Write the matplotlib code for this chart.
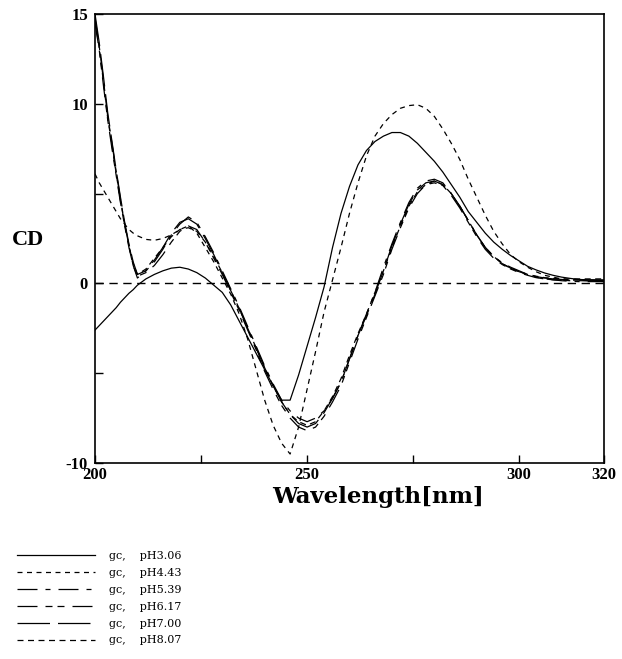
import numpy as np
import matplotlib.pyplot as plt

# CD spectra of gc at several pH values
wavelength = [200, 201, 202, 203, 204, 205, 206, 207, 208, 209, 210,
              212, 214, 216, 218, 220, 222, 224, 226, 228, 230,
              232, 234, 236, 238, 240, 242, 244, 246, 248, 250,
              252, 254, 256, 258, 260, 262, 264, 266, 268, 270,
              272, 274, 276, 278, 280, 282, 284, 286, 288, 290,
              292, 294, 296, 298, 300, 302, 304, 306, 308, 310,
              312, 314, 316, 318, 320]

cd_ph306 = [-2.6, -2.35, -2.1, -1.85, -1.6, -1.35, -1.05, -0.8, -0.55, -0.35, -0.1,
            0.25, 0.5, 0.7, 0.85, 0.9, 0.8, 0.6, 0.3, -0.1, -0.5,
            -1.2, -2.1, -3.0, -3.9, -4.8, -5.7, -6.5, -6.5, -5.1, -3.5,
            -1.9, -0.2, 2.0, 3.9, 5.4, 6.6, 7.4, 7.9, 8.2, 8.4,
            8.4, 8.2, 7.8, 7.3, 6.8, 6.2, 5.5, 4.8, 4.0, 3.4,
            2.8, 2.3, 1.9, 1.55, 1.25, 0.95, 0.75, 0.58, 0.45, 0.35,
            0.28, 0.22, 0.2, 0.18, 0.15]

cd_ph443 = [6.1, 5.6, 5.2, 4.8, 4.4, 4.0, 3.6, 3.3, 3.0, 2.8, 2.65,
            2.45, 2.4, 2.5, 2.7, 3.0, 3.2, 2.8, 2.0, 1.2, 0.3,
            -0.6, -1.7, -3.1, -4.8, -6.5, -7.9, -8.9, -9.5, -8.0, -5.9,
            -3.8, -1.6, 0.2, 2.0, 3.9, 5.6, 7.1, 8.2, 8.9, 9.4,
            9.75, 9.9, 9.95, 9.75, 9.3, 8.6, 7.8, 6.9, 5.8, 4.8,
            3.8, 2.9, 2.2, 1.6, 1.2, 0.9, 0.65, 0.45, 0.35, 0.25,
            0.2, 0.18, 0.15, 0.12, 0.1]

cd_ph539 = [14.8, 13.2, 11.3, 9.3, 7.8, 6.2, 4.7, 3.3, 2.1, 1.0, 0.3,
            0.7, 1.2, 1.9, 2.7, 3.3, 3.7, 3.4, 2.6, 1.7, 0.7,
            -0.3, -1.3, -2.4, -3.5, -4.6, -5.6, -6.5, -7.1, -7.5, -7.7,
            -7.5, -7.1, -6.4, -5.5, -4.2, -2.9, -1.7, -0.5, 0.9, 2.2,
            3.4, 4.5, 5.3, 5.7, 5.8, 5.6, 5.0, 4.3, 3.5, 2.7,
            2.0, 1.5, 1.15, 0.9, 0.7, 0.5, 0.35, 0.25, 0.2, 0.15,
            0.12, 0.1, 0.1, 0.1, 0.1]

cd_ph617 = [14.5, 13.0, 11.0, 9.1, 7.5, 6.0, 4.5, 3.2, 2.0, 1.0, 0.4,
            0.6, 1.0, 1.6, 2.3, 2.9, 3.2, 3.0, 2.3, 1.4, 0.5,
            -0.5, -1.5, -2.6, -3.7, -4.9, -5.9, -6.8, -7.5, -8.0, -8.2,
            -8.0, -7.4, -6.6, -5.7, -4.4, -3.1, -1.9, -0.7, 0.5, 1.9,
            3.1, 4.2, 5.0, 5.5, 5.6, 5.45, 4.9, 4.2, 3.4, 2.6,
            1.9, 1.4, 1.05, 0.8, 0.6, 0.45, 0.32, 0.25, 0.2, 0.18,
            0.15, 0.15, 0.15, 0.15, 0.15]

cd_ph700 = [15.0, 13.4, 11.5, 9.5, 7.9, 6.3, 4.8, 3.4, 2.2, 1.2, 0.5,
            0.7, 1.3, 2.0, 2.8, 3.4, 3.6, 3.3, 2.5, 1.6, 0.6,
            -0.4, -1.4, -2.5, -3.6, -4.7, -5.7, -6.6, -7.3, -7.8, -8.0,
            -7.8, -7.2, -6.4, -5.5, -4.2, -2.9, -1.8, -0.6, 0.7, 2.1,
            3.3, 4.4, 5.2, 5.6, 5.7, 5.5, 5.0, 4.3, 3.5, 2.7,
            2.0, 1.5, 1.1, 0.85, 0.65, 0.5, 0.38, 0.3, 0.25, 0.22,
            0.2, 0.2, 0.2, 0.2, 0.2]

cd_ph807 = [14.6, 13.1, 11.2, 9.2, 7.7, 6.1, 4.6, 3.3, 2.1, 1.1, 0.5,
            0.8, 1.4, 2.0, 2.6, 3.0, 3.1, 2.9, 2.3, 1.5, 0.6,
            -0.4, -1.4, -2.5, -3.6, -4.7, -5.7, -6.6, -7.3, -7.7, -7.9,
            -7.7, -7.1, -6.3, -5.3, -4.0, -2.8, -1.7, -0.5, 0.7, 2.0,
            3.2, 4.3, 5.1, 5.5, 5.7, 5.5, 5.0, 4.3, 3.5, 2.7,
            2.0, 1.5, 1.1, 0.85, 0.65, 0.5, 0.4, 0.32, 0.28, 0.25,
            0.25, 0.25, 0.25, 0.25, 0.25]

labels = ['gc,    pH3.06', 'gc,    pH4.43', 'gc,    pH5.39',
          'gc,    pH6.17', 'gc,    pH7.00', 'gc,    pH8.07']
series = [cd_ph306, cd_ph443, cd_ph539, cd_ph617, cd_ph700, cd_ph807]
styles = ['-',
          (0, (4, 3.6)),
          (0, (16, 6.4, 4, 6.4)),
          (0, (16, 6.4, 5.6, 4, 5.6, 6.4)),
          (0, (26, 6.4)),
          (0, (4.8, 3.6))]

serif = 'Liberation Serif'

fig = plt.figure(figsize=(6.22, 6.59), dpi=100)
ax = fig.add_axes([95/622, 1 - 463/659, 509/622, 449/659])

ax.axhline(0, color='black', lw=1.0, ls=(0, (6, 4)))
for cd, ls, lab in zip(series, styles, labels):
    ax.plot(wavelength, cd, color='black', lw=0.9, ls=ls, label=lab)

ax.set_xlim(200, 320)
ax.set_ylim(-10, 15)
ax.set_xticks([200, 225, 250, 275, 300, 320])
ax.set_xticklabels(['200', '', '250', '', '300', '320'])
ax.set_yticks([-10, -5, 0, 5, 10, 15])
ax.set_yticklabels(['-10', '', '0', '', '10', '15'])
ax.tick_params(direction='in', length=6, width=1.0, pad=5)
ax.tick_params(axis='x', pad=3)
for lab in ax.get_xticklabels() + ax.get_yticklabels():
    lab.set_fontfamily(serif)
    lab.set_fontweight('bold')
    lab.set_fontsize(12)
for sp in ax.spines.values():
    sp.set_linewidth(1.2)

fig.text(378/622, 1 - 497/659, 'Wavelength[nm]', family='DejaVu Serif',
         weight='bold', fontsize=16.5, ha='center', va='center')
fig.text(28/622, 1 - 240/659, 'CD', family=serif, weight='bold',
         fontsize=16, ha='center', va='center')

fig.legend(loc='upper left', bbox_to_anchor=(17/622, 1 - 551/659),
           frameon=False, prop={'family': 'DejaVu Serif', 'size': 8},
           handlelength=7.0, handletextpad=1.3, labelspacing=0.62,
           borderpad=0, borderaxespad=0)

fig.savefig('out.png', dpi=100)
